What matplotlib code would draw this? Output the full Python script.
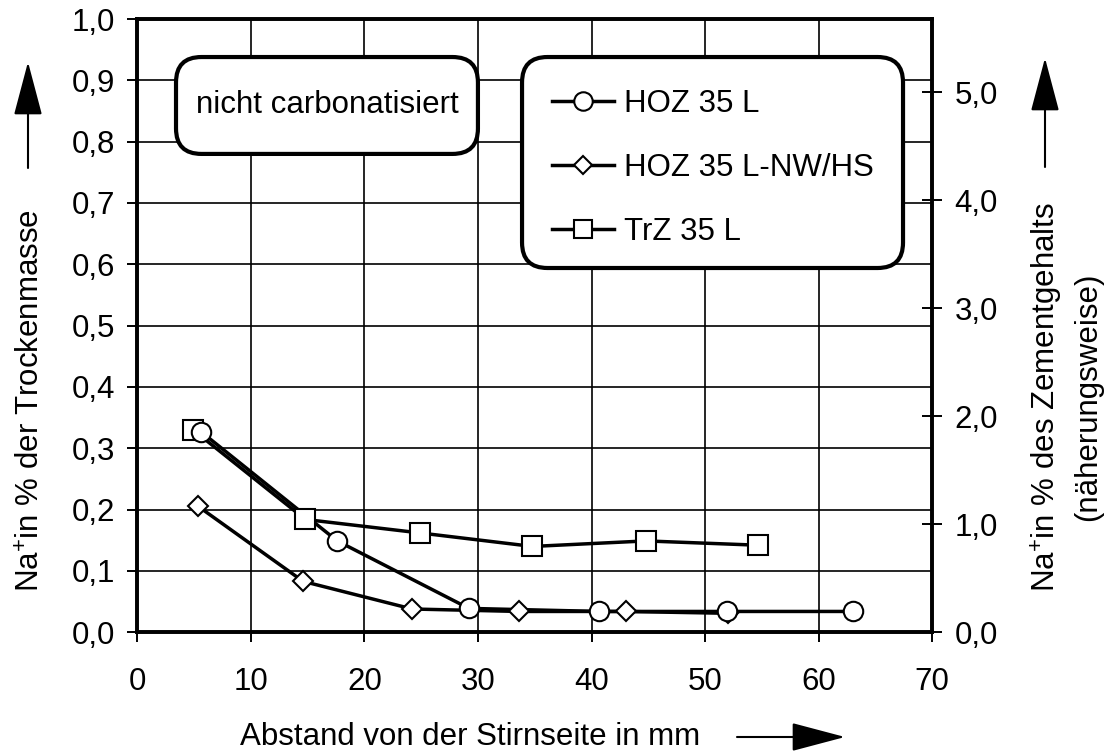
import matplotlib
matplotlib.use("Agg")
import matplotlib.pyplot as plt
from matplotlib.patches import FancyBboxPatch
from matplotlib.ticker import FuncFormatter, MultipleLocator

plt.rcParams["font.family"] = ["Liberation Sans", "DejaVu Sans"]
plt.rcParams["mathtext.fontset"] = "custom"
plt.rcParams["mathtext.rm"] = "Liberation Sans"

# Abstand von der Stirnseite (mm) / Na+ in % der Trockenmasse
x_hoz = [5.6, 17.6, 29.2, 40.7, 51.9, 63.0]
y_hoz = [0.327, 0.149, 0.039, 0.034, 0.034, 0.034]
x_nwhs = [5.3, 14.6, 24.2, 33.6, 43.0, 52.0]
y_nwhs = [0.206, 0.083, 0.038, 0.034, 0.034, 0.031]
x_trz = [4.9, 14.8, 24.9, 34.8, 44.8, 54.7]
y_trz = [0.330, 0.184, 0.162, 0.140, 0.149, 0.142]

labels = ["HOZ 35 L", "HOZ 35 L-NW/HS", "TrZ 35 L"]
right_max = 5.68  # Na+ bezogen auf Zementgehalt (Faktor ~5.68)

comma = FuncFormatter(lambda v, _: f"{v:.1f}".replace(".", ","))

fig = plt.figure(figsize=(11.06, 7.54), dpi=100)
ax = fig.add_axes([0.1243, 0.1614, 0.7184, 0.8134])

ax.set_xlim(0, 70)
ax.set_ylim(0, 1.0)
ax.xaxis.set_major_locator(MultipleLocator(10))
ax.yaxis.set_major_locator(MultipleLocator(0.1))
ax.yaxis.set_major_formatter(comma)
ax.grid(True, color="black", lw=1.2)
ax.set_axisbelow(True)
for s in ax.spines.values():
    s.set_linewidth(2.6)
ax.tick_params(axis="both", labelsize=22.5, width=1.4, length=7.2, direction="out")
ax.tick_params(axis="x", pad=18)
ax.tick_params(axis="y", pad=9)

# lines first, markers on top
ax.plot(x_trz, y_trz, color="black", lw=2.5, zorder=3)
ax.plot(x_hoz, y_hoz, color="black", lw=2.5, zorder=3)
ax.plot(x_nwhs, y_nwhs, color="black", lw=2.5, zorder=3)
mk = dict(ls="none", mfc="white", mec="black", mew=1.5)
m_trz, = ax.plot(x_trz, y_trz, marker="s", ms=14, zorder=4, **mk)
m_nwhs, = ax.plot(x_nwhs, y_nwhs, marker="D", ms=10, zorder=5, **mk)
m_hoz, = ax.plot(x_hoz, y_hoz, marker="o", ms=14, zorder=6, **mk)

l_hoz, = ax.plot([], [], color="black", lw=2.5)
l_nwhs, = ax.plot([], [], color="black", lw=2.5)
l_trz, = ax.plot([], [], color="black", lw=2.5)

asp = 794.5 / 613.3
ax.add_patch(FancyBboxPatch((0.0485, 0.780), 0.380, 0.158,
                            boxstyle="round,pad=0,rounding_size=0.032",
                            mutation_aspect=asp, transform=ax.transAxes,
                            fc="white", ec="black", lw=3, zorder=7))
ax.text(0.2385, 0.859, "nicht carbonatisiert", fontsize=22.5,
        ha="center", va="center", transform=ax.transAxes, zorder=8)

ax.add_patch(FancyBboxPatch((0.484, 0.594), 0.4795, 0.344,
                            boxstyle="round,pad=0,rounding_size=0.032",
                            mutation_aspect=asp, transform=ax.transAxes,
                            fc="white", ec="black", lw=3, zorder=7))
leg = ax.legend([(l_hoz, m_hoz), (l_nwhs, m_nwhs), (l_trz, m_trz)], labels,
                loc="center", bbox_to_anchor=(0.7237, 0.757), frameon=False,
                fontsize=22.5, handlelength=2.0, handletextpad=0.3,
                labelspacing=1.1, borderpad=0, markerscale=0.95)
leg.set_zorder(8)

ax.set_xlabel("Abstand von der Stirnseite in mm", fontsize=22.5, va="center")
ax.xaxis.set_label_coords(0.419, -0.171)
ax.set_ylabel("Na$^{+}$in % der Trockenmasse", fontsize=22.5, va="center", ha="center")
ax.yaxis.set_label_coords(-0.1328, 0.377)

ax2 = ax.twinx()
ax2.set_ylim(0, right_max)
ax2.yaxis.set_major_locator(MultipleLocator(1.0))
ax2.yaxis.set_major_formatter(comma)
ax2.tick_params(axis="y", labelsize=22.5, width=1.4, length=14.4, direction="inout", pad=9)
for s in ax2.spines.values():
    s.set_linewidth(2.6)
ax2.set_ylabel("Na$^{+}$in % des Zementgehalts\n(näherungsweise)", fontsize=22.5,
               va="center", ha="center", multialignment="center", linespacing=1.35)
ax2.yaxis.set_label_coords(1.169, 0.384)

# Pfeile an den Achsentiteln
arrow = dict(arrowstyle="-|>,head_length=34,head_width=9", mutation_scale=1,
             color="black", lw=1.5, shrinkA=0, shrinkB=0)
ax.annotate("", xy=(28, 754 - 62), xytext=(28, 754 - 168),
            xycoords="figure pixels", textcoords="figure pixels", arrowprops=arrow)
ax.annotate("", xy=(1045, 754 - 58), xytext=(1045, 754 - 167),
            xycoords="figure pixels", textcoords="figure pixels", arrowprops=arrow)
ax.annotate("", xy=(845, 754 - 737), xytext=(737, 754 - 737),
            xycoords="figure pixels", textcoords="figure pixels", arrowprops=arrow)

fig.savefig("out.png", dpi=100)
